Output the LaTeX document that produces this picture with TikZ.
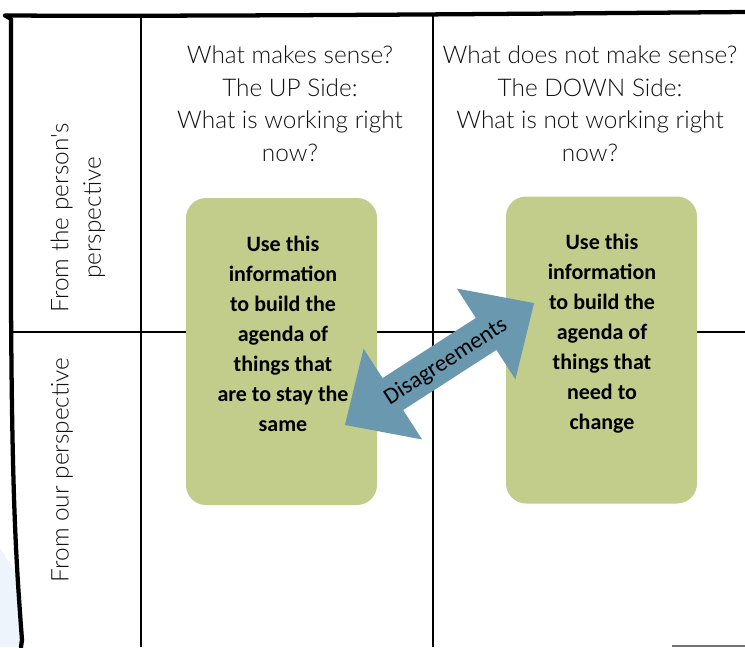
\documentclass[tikz,border=0pt]{standalone}
\usepackage{fontspec}
\setmainfont{Carlito}
\IfFontExistsTF{Lato Light}{\newfontfamily\hdfont{Lato Light}}{\newfontfamily\hdfont{Lato}}
\newfontfamily\boxfont{Carlito}
\definecolor{boxgreen}{HTML}{C2CD8C}
\definecolor{arrowblue}{HTML}{6998AF}
\definecolor{txt}{HTML}{111111}
\definecolor{paleblue}{HTML}{EDF4FB}
\tikzset{
  gridline/.style={line width=1.6pt, black},
  border/.style={line width=3.2pt, black, line cap=round, line join=round},
  header/.style={font=\hdfont\fontsize{18.3}{24.4}\selectfont, text=txt, align=center, inner sep=0pt},
  sidelabel/.style={font=\hdfont\fontsize{18.3}{24.4}\selectfont, text=txt, align=center, inner sep=0pt, rotate=90},
  greenbox/.style={fill=boxgreen, rounded corners=15pt, minimum width=143.25pt, minimum height=230.25pt, inner sep=0pt},
  boxtext/.style={font=\boxfont\bfseries\fontsize{16.5}{22.5}\selectfont, text=black, align=center, inner sep=0pt},
  arrowtext/.style={font=\boxfont\fontsize{17.5}{20}\selectfont, text=black, inner sep=0pt, rotate=32.8}
}
\begin{document}
\begin{tikzpicture}[x=0.75pt,y=-0.75pt]
\useasboundingbox (0,0) rectangle (745,647);
% pale shape bottom left
\fill[paleblue] (0,548) -- (9,562) -- (19,576) -- (21,647) -- (0,647) -- cycle;
% grid lines
\draw[gridline] (141,17) -- (141,647);
\draw[gridline] (433,15) -- (433,647);
\draw[gridline] (12,332) -- (745,332);
% border
\draw[border] (5,15.5) .. controls (200,16.5) and (500,14) .. (745,12);
\draw[border] (6,16) -- (11,19) -- (11,300) .. controls (12,500) and (16,560) .. (22,640) -- (21,647);
\draw[line width=1.5pt, black!55] (672,645.5) -- (745,645.5);
% headers
\node[header] (h1) at (290,103.5) {What makes sense?\\The UP Side:\\What is working right\\now?};
\node[header] (h2) at (590,103.5) {What does not make sense?\\The DOWN Side:\\What is not working right\\now?};
% side labels
\node[sidelabel] (s1) at (78,218) {From the person's\\perspective};
\node[sidelabel] (s2) at (62,470) {From our perspective};
% green boxes
\node[greenbox] (b1) at (281.5,351.5) {};
\node[greenbox] (b2) at (601.5,350) {};
\node[boxtext] (t1) at (283,334) {Use this\\information\\to build the\\agenda of\\things that\\are to stay the\\same};
\node[boxtext] (t2) at (602,334) {Use this\\information\\to build the\\agenda of\\things that\\need to\\change};
% double arrow
\begin{scope}[shift={(439.5,364)}, rotate=32.8]
\fill[arrowblue] (-112.5,0) -- (-55.5,54) -- (-55.5,19) -- (55.5,19) -- (55.5,54) -- (112.5,0) -- (55.5,-54) -- (55.5,-19) -- (-55.5,-19) -- (-55.5,-54) -- cycle;
\end{scope}
\node[arrowtext] (dis) at (446,362) {Disagreements};
\end{tikzpicture}
\end{document}
